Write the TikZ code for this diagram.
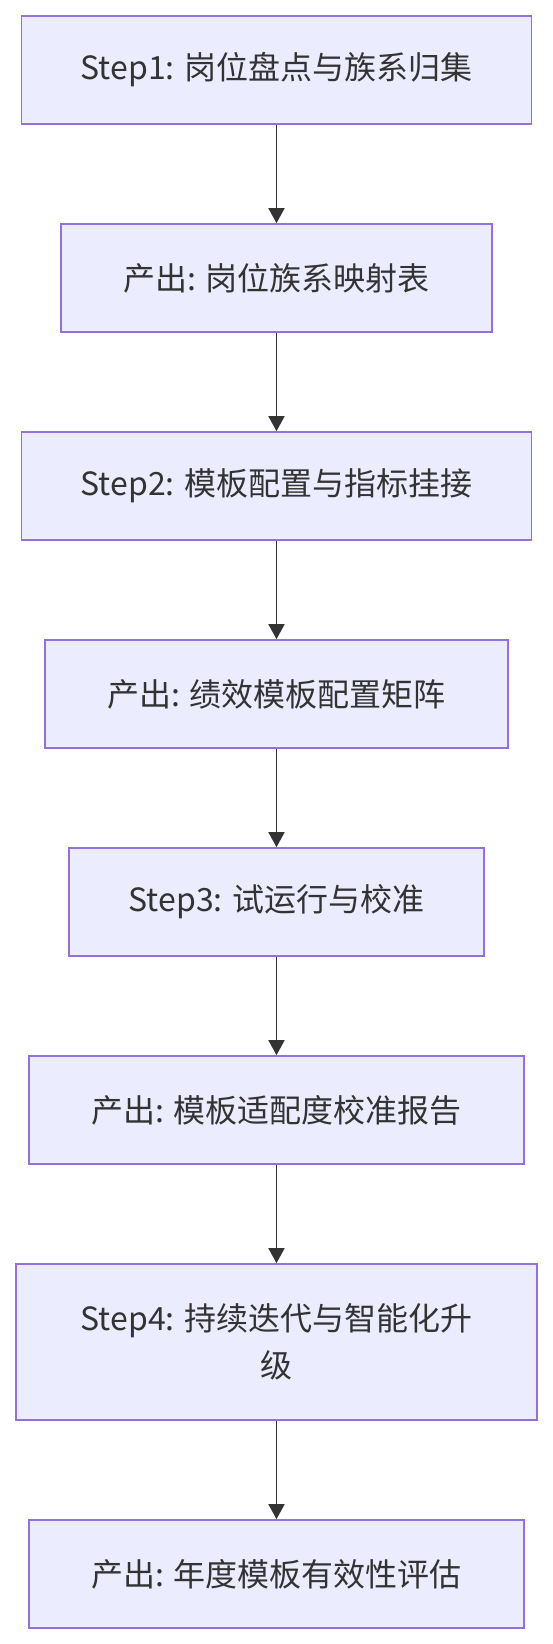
\documentclass[tikz,border=0pt]{standalone}
\usepackage{fontspec}
\setmainfont{Noto Sans CJK SC}
\usetikzlibrary{arrows.meta}
\definecolor{boxfill}{HTML}{ECECFF}
\definecolor{boxline}{HTML}{9370DB}
\definecolor{ink}{HTML}{333333}
\tikzset{
  flowbox/.style={draw=boxline, fill=boxfill, line width=1.7pt, rectangle,
    minimum width=#1, minimum height=108pt, inner sep=0pt, text=ink,
    font=\fontsize{32}{46.7}\selectfont, align=center},
  flowarrow/.style={draw=ink, line width=1.7pt, -{Triangle[length=15pt,width=16pt]}}
}
\begin{document}
\begin{tikzpicture}[x=1pt,y=1pt]
\useasboundingbox (0,0) rectangle (552,-1644);
\node[flowbox=510pt] (s1) at (276.5,-70) {Step1: 岗位盘点与族系归集};
\node[flowbox=431pt] (o1) at (276.5,-278) {产出: 岗位族系映射表};
\node[flowbox=510pt] (s2) at (276.5,-486) {Step2: 模板配置与指标挂接};
\node[flowbox=463pt] (o2) at (276.5,-694) {产出: 绩效模板配置矩阵};
\node[flowbox=415pt] (s3) at (276.5,-902) {Step3: 试运行与校准};
\node[flowbox=495pt] (o3) at (276.5,-1110) {产出: 模板适配度校准报告};
\node[flowbox=521pt, minimum height=156pt] (s4) at (276.5,-1342) {Step4: 持续迭代与智能化升\\级};
\node[flowbox=495pt] (o4) at (276.5,-1574) {产出: 年度模板有效性评估};
\draw[flowarrow] (s1) -- (o1);
\draw[flowarrow] (o1) -- (s2);
\draw[flowarrow] (s2) -- (o2);
\draw[flowarrow] (o2) -- (s3);
\draw[flowarrow] (s3) -- (o3);
\draw[flowarrow] (o3) -- (s4);
\draw[flowarrow] (s4) -- (o4);
\end{tikzpicture}
\end{document}
